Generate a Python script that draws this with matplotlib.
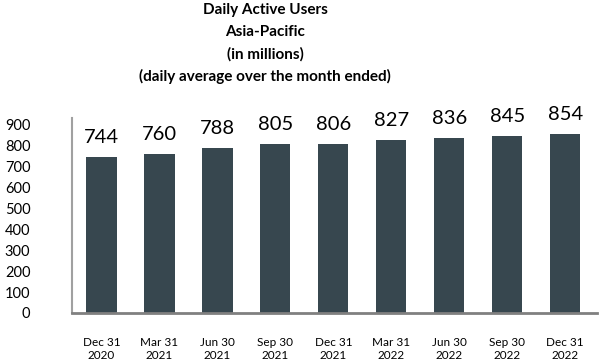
import matplotlib
matplotlib.use("Agg")
import matplotlib.pyplot as plt

# data
quarters = ["Dec 31\n2020", "Mar 31\n2021", "Jun 30\n2021", "Sep 30\n2021", "Dec 31\n2021",
            "Mar 31\n2022", "Jun 30\n2022", "Sep 30\n2022", "Dec 31\n2022"]
dau = [744, 760, 788, 805, 806, 827, 836, 845, 854]
yticks = [0, 100, 200, 300, 400, 500, 600, 700, 800, 900]

plt.rcParams['font.family'] = ['Lato', 'DejaVu Sans']

fig = plt.figure(figsize=(6, 3.6), dpi=100)
ax = fig.add_axes([0.12, 0.1306, 0.875, 0.541])

x = list(range(len(dau)))
bars = ax.bar(x, dau, width=0.52, color='#37474f')

for rect, v in zip(bars, dau):
    ax.annotate(str(v), (rect.get_x() + rect.get_width() / 2, rect.get_height()),
                xytext=(0, 8), textcoords='offset points',
                ha='center', va='bottom', fontsize=14.5, color='black')

ax.set_xlim(-0.51, 8.55)
ax.set_ylim(0, 930)
ax.set_yticks(yticks)
ax.set_yticklabels([str(t) for t in yticks], fontsize=10.5)
ax.set_xticks(x)
ax.set_xticklabels(quarters, fontsize=8.5, linespacing=1.3)
ax.tick_params(axis='y', length=0, pad=30)
ax.tick_params(axis='x', length=0, pad=17)

for s in ['top', 'right']:
    ax.spines[s].set_visible(False)
ax.spines['left'].set_color('#a0a0a0')
ax.spines['left'].set_linewidth(1.5)
ax.spines['bottom'].set_color('#808080')
ax.spines['bottom'].set_linewidth(2)

title_lines = ["Daily Active Users", "Asia-Pacific", "(in millions)",
               "(daily average over the month ended)"]
for i, t in enumerate(title_lines):
    fig.text(0.442, 1 - (10 + 22.3 * i) / 360, t, ha='center', va='center',
             fontsize=11, fontweight='bold')

fig.savefig("out.png", dpi=100)
